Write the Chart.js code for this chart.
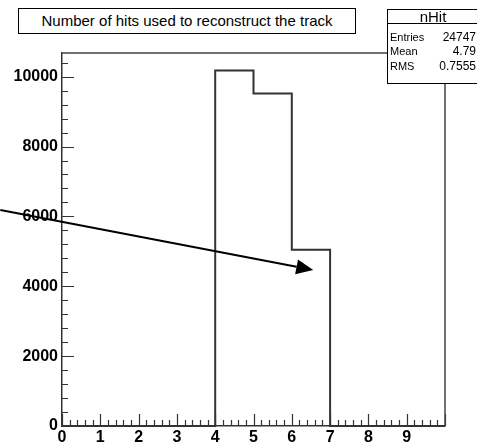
<!DOCTYPE html>
<html><head><meta charset="utf-8">
<script src="https://cdn.jsdelivr.net/npm/chart.js@4"></script>
<style>
html,body{margin:0;padding:0;background:#fff;}
#wrap{position:relative;width:477px;height:444px;overflow:hidden;background:#fff;}
canvas{position:absolute;left:0;top:0;}
.box{position:absolute;background:#fff;border:1px solid #000;box-sizing:border-box;font-family:"Liberation Sans",Arial,sans-serif;color:#000;}
.abs{position:absolute;white-space:nowrap;}
</style></head><body>
<div id="wrap">
<canvas id="c" width="477" height="444"></canvas>
<div class="box" id="title" style="left:18px;top:8px;width:338px;height:26px;font-size:15px;line-height:24px;text-align:center;">Number of hits used to reconstruct the track</div>
<div class="box" id="stats" style="left:387px;top:9px;width:100px;height:75px;"></div>
</div>
<script>
// ---- data ----
const binEdges = [0, 1, 2, 3, 4, 5, 6, 7, 8, 9];
const binCounts = [0, 0, 0, 0, 10180, 9520, 5047, 0, 0, 0];
const xMax = 10;
const yMax = 10678;
const xTickValues = [0, 1, 2, 3, 4, 5, 6, 7, 8, 9];
const xTickLabels = ['0','1','2','3','4','5','6','7','8','9'];
const yTickValues = [0, 2000, 4000, 6000, 8000, 10000];
const yTickLabels = ['0','2000','4000','6000','8000','10000'];
const statsName = 'nHit';
const statsLabels = ['Entries', 'Mean', 'RMS'];
const statsValues = ['24747', '4.79', '0.7555'];
const arrowFrom = [-1.61, 6184];
const arrowTo = [6.56, 4466];

// stats box
(function(){
  const s = document.getElementById('stats');
  let h = '<div class="abs" style="left:0;top:0;width:90px;height:13px;line-height:13px;font-size:15px;text-align:center;">'+statsName+'</div>';
  h += '<div class="abs" style="left:0;top:13px;width:100px;height:0;border-top:1px solid #000;"></div>';
  const tops = [20, 34, 49];
  for (let i = 0; i < statsLabels.length; i++) {
    h += '<div class="abs" style="left:2px;top:'+tops[i]+'px;line-height:14px;font-size:11px;">'+statsLabels[i]+'</div>';
    h += '<div class="abs" style="left:0;width:88px;top:'+tops[i]+'px;line-height:14px;font-size:12px;text-align:right;">'+statsValues[i]+'</div>';
  }
  s.innerHTML = h;
})();

const points = binEdges.map((e, i) => ({x: e, y: binCounts[i]}));
points.push({x: xMax, y: 0});

const rootTicks = {
  id: 'rootTicks',
  afterDatasetsDraw(chart) {
    const ctx = chart.ctx, a = chart.chartArea;
    const xs = chart.scales.x, ys = chart.scales.y;
    ctx.save();
    ctx.strokeStyle = '#333';
    ctx.lineWidth = 1.2;
    ctx.beginPath();
    for (let i = 0; i <= xMax * 5; i++) {
      const px = Math.round(xs.getPixelForValue(i / 5)) + 0.5;
      const len = (i % 5 === 0) ? 12 : 6;
      ctx.moveTo(px, a.bottom); ctx.lineTo(px, a.bottom - len);
    }
    for (let v = 0; v <= yMax; v += 400) {
      const py = Math.round(ys.getPixelForValue(v)) + 0.5;
      const len = (v % 2000 === 0) ? 12 : 6;
      ctx.moveTo(a.left, py); ctx.lineTo(a.left + len, py);
    }
    ctx.stroke();
    // frame top and right
    ctx.lineWidth = 1.5;
    ctx.strokeStyle = '#444';
    ctx.beginPath();
    ctx.moveTo(a.left, a.top); ctx.lineTo(a.right, a.top); ctx.lineTo(a.right, a.bottom);
    ctx.stroke();
    // arrow
    const x1 = xs.getPixelForValue(arrowFrom[0]), y1 = ys.getPixelForValue(arrowFrom[1]);
    const x2 = xs.getPixelForValue(arrowTo[0]), y2 = ys.getPixelForValue(arrowTo[1]);
    const ang = Math.atan2(y2 - y1, x2 - x1);
    const hl = 17, hw = 7.5;
    const bx = x2 - hl * Math.cos(ang), by = y2 - hl * Math.sin(ang);
    ctx.strokeStyle = '#000'; ctx.fillStyle = '#000'; ctx.lineWidth = 2;
    ctx.beginPath(); ctx.moveTo(x1, y1); ctx.lineTo(bx, by); ctx.stroke();
    ctx.beginPath();
    ctx.moveTo(x2, y2);
    ctx.lineTo(bx + hw * Math.sin(ang), by - hw * Math.cos(ang));
    ctx.lineTo(bx - hw * Math.sin(ang), by + hw * Math.cos(ang));
    ctx.closePath(); ctx.fill();
    ctx.restore();
  }
};

new Chart(document.getElementById('c'), {
  type: 'line',
  data: { datasets: [{
    data: points, stepped: 'before', borderColor: '#333', borderWidth: 2,
    pointRadius: 0, fill: false, clip: false, tension: 0
  }]},
  options: {
    responsive: false, animation: false, devicePixelRatio: 1,
    layout: { padding: { top: 53, right: 32, left: 0, bottom: 0 } },
    plugins: { legend: { display: false }, tooltip: { enabled: false }, title: { display: false } },
    scales: {
      x: {
        type: 'linear', min: 0, max: xMax,
        grid: { display: false, drawTicks: false },
        border: { display: true, color: '#333', width: 1.5 },
        afterBuildTicks: (s) => { s.ticks = xTickValues.map(v => ({ value: v })); },
        ticks: {
          autoSkip: false, maxRotation: 0, padding: 2, color: '#000',
          font: { family: 'Liberation Sans', size: 16, weight: 'bold' },
          callback: (v, i) => xTickLabels[i]
        },
        afterFit: (s) => { s.height = 18; }
      },
      y: {
        type: 'linear', min: 0, max: yMax,
        grid: { display: false, drawTicks: false },
        border: { display: true, color: '#333', width: 1.5 },
        afterBuildTicks: (s) => { s.ticks = yTickValues.map(v => ({ value: v })); },
        ticks: {
          autoSkip: false, padding: 4, color: '#000',
          font: { family: 'Liberation Sans', size: 16, weight: 'bold' },
          callback: (v, i) => yTickLabels[i]
        },
        afterFit: (s) => { s.width = 62; }
      }
    }
  },
  plugins: [rootTicks]
});
</script>
</body></html>
